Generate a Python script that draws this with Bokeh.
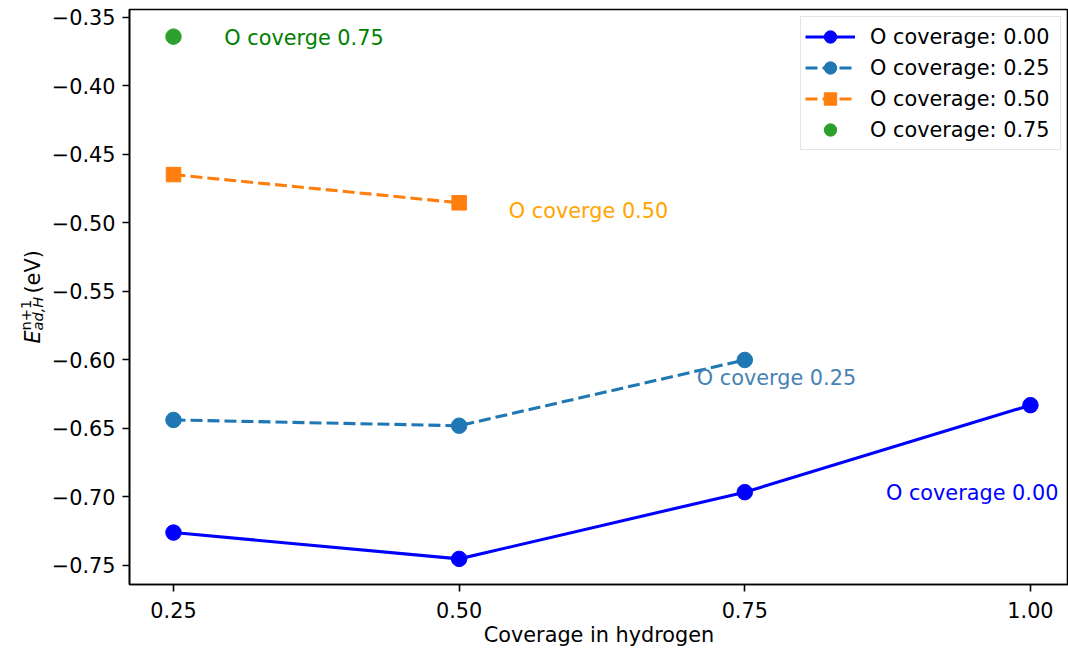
import math
from bokeh.plotting import figure
from bokeh.layouts import row
from bokeh.models import (ColumnDataSource, FixedTicker, CustomJSTickFormatter,
                          Range1d, Legend)
from bokeh.core.properties import value
from bokeh.embed import file_html
from bokeh.resources import INLINE

# ---------------- data ----------------
h_cov_00 = [0.25, 0.50, 0.75, 1.00]
e_00 = [-0.7260, -0.7452, -0.6965, -0.6330]

h_cov_25 = [0.25, 0.50, 0.75]
e_25 = [-0.6438, -0.6480, -0.6000]

h_cov_50 = [0.25, 0.50]
e_50 = [-0.4647, -0.4853]

h_cov_75 = [0.25]
e_75 = [-0.3640]

annot_x = [0.2945, 0.5435, 0.7080, 0.8735]
annot_y = [-0.3652, -0.4910, -0.6130, -0.6970]
annot_text = ["O coverge 0.75", "O coverge 0.50", "O coverge 0.25", "O coverage 0.00"]
annot_color = ["#008000", "#ffa500", "#4682b4", "#0000ff"]

y_ticks = [-0.75, -0.70, -0.65, -0.60, -0.55, -0.50, -0.45, -0.40, -0.35]
x_ticks = [0.25, 0.50, 0.75, 1.00]

x_label = "Coverage in hydrogen"
y_label_parts = ["E", "ad,H", "n+1", "(eV)"]

FONT = "DejaVu Sans"
FS = "20.8px"
W_LAB = 48
H = 649
TOP, BOTTOM = 9, 65

# ---------------- y-axis label panel ----------------
fl = figure(width=W_LAB, height=H, output_backend="svg", toolbar_location=None,
            x_range=Range1d(0, W_LAB), y_range=Range1d(BOTTOM, H - TOP),
            x_axis_location=None, y_axis_location=None,
            min_border_left=0, min_border_right=0,
            min_border_top=TOP, min_border_bottom=BOTTOM)
fl.grid.visible = False
fl.outline_line_color = None
fl.background_fill_color = "white"
fl.border_fill_color = "white"
# baseline x (px from left), start y (px from top), size, style
lab_geom = [(32, 343, FS, "italic"), (37, 330, "14.6px", "italic"),
            (25, 330, "14.6px", "normal"), (32, 293, FS, "normal")]
for txt, (bx, sy, fs, st) in zip(y_label_parts, lab_geom):
    fl.text(x=[bx], y=[H - sy], text=[txt], angle=math.pi / 2, text_font=value(FONT),
            text_font_size=fs, text_font_style=st, text_align="left",
            text_baseline="alphabetic", text_color="black")

# ---------------- main plot ----------------
p = figure(width=1068 - W_LAB, height=H, output_backend="svg", toolbar_location=None,
           x_range=Range1d(0.2115, 1.0333), y_range=Range1d(-0.7639, -0.3442),
           min_border_left=129 - W_LAB, min_border_right=0, min_border_top=TOP,
           min_border_bottom=BOTTOM)
p.background_fill_color = "white"
p.border_fill_color = "white"
p.grid.visible = False
p.outline_line_color = "black"
p.outline_line_width = 1.6

l0 = p.line(h_cov_00, e_00, line_color="#0000ff", line_width=3.1)
s0 = p.scatter(h_cov_00, e_00, marker="circle", size=15.5, fill_color="#0000ff", line_color="#0000ff")
l1 = p.line(h_cov_25, e_25, line_color="#1f77b4", line_width=3.1, line_dash="12 5")
s1 = p.scatter(h_cov_25, e_25, marker="circle", size=15.5, fill_color="#1f77b4", line_color="#1f77b4")
l2 = p.line(h_cov_50, e_50, line_color="#ff7f0e", line_width=3.1, line_dash="12 5")
s2 = p.scatter(h_cov_50, e_50, marker="square", size=14.5, fill_color="#ff7f0e", line_color="#ff7f0e")
s3 = p.scatter(h_cov_75, e_75, marker="circle", size=15.5, fill_color="#2ca02c", line_color="#2ca02c")

src = ColumnDataSource(dict(x=annot_x, y=annot_y, t=annot_text, c=annot_color))
p.text(x="x", y="y", text="t", text_color="c", source=src, text_font=value(FONT),
       text_font_size=FS, text_align="left", text_baseline="alphabetic")

legend = Legend(items=[
    ("O coverage: 0.00", [l0, s0]),
    ("O coverage: 0.25", [l1, s1]),
    ("O coverage: 0.50", [l2, s2]),
    ("O coverage: 0.75", [s3]),
], location="top_right")
legend.margin = 7
legend.padding = 4
legend.spacing = 0
legend.label_height = 21
legend.glyph_height = 31
legend.glyph_width = 50
legend.label_width = 186
legend.label_standoff = 15
legend.label_text_font = FONT
legend.label_text_font_size = FS
legend.label_text_color = "black"
legend.border_line_color = "#cccccc"
legend.border_line_width = 1.6
legend.background_fill_alpha = 0.8
p.add_layout(legend)

minus_fmt = CustomJSTickFormatter(code="return tick.toFixed(2).replace('-', '\\u2212');")
for ax in (p.xaxis[0], p.yaxis[0]):
    ax.major_label_text_font = FONT
    ax.major_label_text_font_size = FS
    ax.major_label_text_color = "black"
    ax.major_tick_out = 7
    ax.major_tick_in = 0
    ax.minor_tick_out = 0
    ax.minor_tick_in = 0
    ax.major_tick_line_width = 1.6
    ax.axis_line_width = 1.6
    ax.major_label_standoff = 7
    ax.formatter = minus_fmt

xa = p.xaxis[0]
xa.major_label_standoff = 10
xa.major_label_text_line_height = 1.0
xa.ticker = FixedTicker(ticks=x_ticks)
p.yaxis[0].ticker = FixedTicker(ticks=y_ticks)
xa.axis_label = x_label
xa.axis_label_text_font = FONT
xa.axis_label_text_font_size = FS
xa.axis_label_text_font_style = "normal"
xa.axis_label_text_color = "black"
xa.axis_label_text_line_height = 1.0
xa.axis_label_standoff = 2

layout = row(fl, p, spacing=0)
open("out.html", "w").write(file_html(layout, INLINE))
